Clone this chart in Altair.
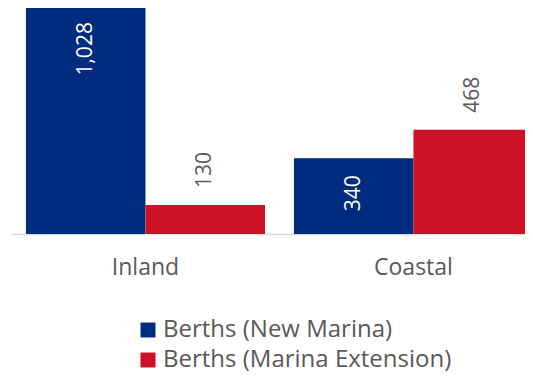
import altair as alt
import pandas as pd

categories = ["Inland", "Coastal"]
series_names = ["Berths (New Marina)", "Berths (Marina Extension)"]
new_marina = [1028, 340]
extension = [130, 468]
colors = ["#002B7F", "#CE1126"]

rows = []
for i, c in enumerate(categories):
    rows.append({"cat": c, "series": series_names[0], "value": new_marina[i]})
    rows.append({"cat": c, "series": series_names[1], "value": extension[i]})
df = pd.DataFrame(rows)

FONT = "Open Sans"
GRAY = "#595959"

x_enc = alt.X("cat:N", sort=categories,
              scale=alt.Scale(paddingInner=0.108, paddingOuter=0.026, align=1),
              axis=alt.Axis(title=None, ticks=False, domainColor="#D9D9D9", domainWidth=1.5,
                            labelFont=FONT, labelFontSize=23, labelColor=GRAY,
                            labelPadding=22, labelAngle=0))
xo = alt.XOffset("series:N", sort=series_names)
y_enc = alt.Y("value:Q", scale=alt.Scale(domain=[0, 1015], nice=False, zero=True), axis=None)

base = alt.Chart(df)

bars = base.mark_bar().encode(
    x=x_enc, xOffset=xo, y=y_enc,
    color=alt.Color("series:N", sort=series_names,
                    scale=alt.Scale(domain=series_names, range=colors),
                    legend=alt.Legend(title=None, orient="none", legendX=124, legendY=310,
                                      direction="vertical", symbolType="square",
                                      symbolSize=225, symbolStrokeWidth=0,
                                      labelFont=FONT, labelFontSize=24, labelColor=GRAY,
                                      labelOffset=3, rowPadding=6, labelLimit=400)),
)

inside = base.transform_filter(alt.datum.series == series_names[0]).mark_text(
    angle=270, align="right", baseline="middle", dx=-17, font=FONT, fontSize=21, color="white"
).encode(x=x_enc, xOffset=xo, y=y_enc, text=alt.Text("value:Q", format=","))

outside = base.transform_filter(alt.datum.series == series_names[1]).mark_text(
    angle=270, align="left", baseline="middle", dx=17, font=FONT, fontSize=21, color=GRAY
).encode(x=x_enc, xOffset=xo, y=y_enc, text=alt.Text("value:Q", format=","))

chart = alt.layer(bars, inside, outside).properties(
    width=521, height=226,
    autosize=alt.AutoSizeParams(type="none"),
    padding={"left": 4, "top": 0, "right": -8, "bottom": 139},
).configure_view(stroke=None)

chart.save("out.html", embed_options={"renderer": "svg", "actions": False})
